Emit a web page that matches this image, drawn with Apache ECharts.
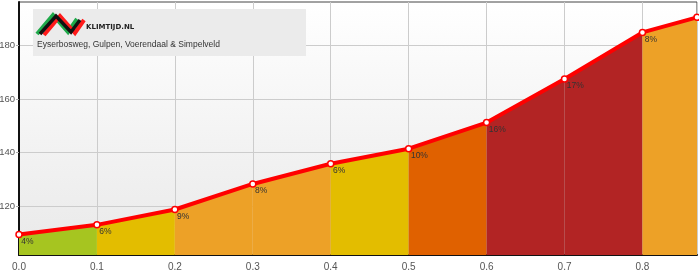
<!DOCTYPE html>
<html>
<head>
<meta charset="utf-8">
<script src="https://cdn.jsdelivr.net/npm/echarts@6/dist/echarts.min.js"></script>
<style>
html,body{margin:0;padding:0;background:#fff;}
#chart{width:699px;height:273px;}
</style>
</head>
<body>
<div id="chart"></div>
<script>
// distance (km) and elevation (m)
var distances = [0.0, 0.1, 0.2, 0.3, 0.4, 0.5, 0.6, 0.7, 0.8, 0.87];
var elevations = [109.6, 113.2, 118.9, 128.4, 135.9, 141.5, 151.2, 167.4, 184.7, 190.3];
var grades = ['4%', '6%', '9%', '8%', '6%', '10%', '16%', '17%', '8%', ''];
var segmentColors = ['#a6c520', '#e3bd00', '#eda127', '#eda127', '#e3bd00', '#e06100', '#b22424', '#b22424', '#eda127'];
var yTicks = [120, 140, 160, 180];
var titleText = 'Eyserbosweg, Gulpen, Voerendaal & Simpelveld';
var brandText = 'KLIMTIJD.NL';

var chart = echarts.init(document.getElementById('chart'));

var series = [];
for (var i = 0; i < distances.length - 1; i++) {
  series.push({
    type: 'line',
    data: [[distances[i], elevations[i]], [distances[i + 1], elevations[i + 1]]],
    showSymbol: false,
    silent: true,
    lineStyle: { width: 0 },
    areaStyle: { color: segmentColors[i], opacity: 1, origin: 'start' },
    z: 2
  });
}
var mainData = distances.map(function (d, i) { return [d, elevations[i]]; });
series.push({
  type: 'line',
  data: mainData,
  symbol: 'circle',
  symbolSize: 6,
  showSymbol: true,
  itemStyle: { color: '#ffffff', borderColor: '#ff0000', borderWidth: 1.5 },
  lineStyle: { color: '#ff0000', width: 4 },
  label: {
    show: true,
    position: [6, 6],
    align: 'left',
    verticalAlign: 'top',
    fontSize: 8.5,
    fontFamily: 'Liberation Sans',
    color: '#333',
    formatter: function (p) { return grades[p.dataIndex]; }
  },
  z: 5
});

chart.setOption({
  animation: false,
  grid: {
    left: 19, right: 2, top: 2, bottom: 18,
    outerBoundsMode: 'none',
    containLabel: false,
    show: true,
    borderColor: '#444',
    borderWidth: 1,
    backgroundColor: {
      type: 'linear', x: 0, y: 0, x2: 0, y2: 1,
      colorStops: [{ offset: 0, color: '#ffffff' }, { offset: 1, color: '#e9e9e9' }]
    }
  },
  xAxis: {
    type: 'value',
    min: 0,
    max: 0.87,
    interval: 0.1,
    axisLine: { show: true, lineStyle: { color: '#111', width: 2 } },
    axisTick: { show: false },
    axisLabel: {
      color: '#555', fontSize: 10, fontFamily: 'Liberation Sans', margin: 7,
      showMaxLabel: false,
      formatter: function (v) { return v.toFixed(1); }
    },
    splitLine: { show: true, lineStyle: { color: '#cccccc', width: 1 } }
  },
  yAxis: {
    type: 'value',
    min: 102,
    max: 196,
    axisLine: { show: true, lineStyle: { color: '#111', width: 2 } },
    axisTick: { show: true, length: 3, customValues: yTicks, lineStyle: { color: '#aaa' } },
    axisLabel: {
      color: '#555', fontSize: 9.5, fontFamily: 'Liberation Sans', margin: 4,
      customValues: yTicks
    },
    splitLine: { show: true, lineStyle: { color: '#cccccc', width: 1 } }
  },
  series: series,
  graphic: [
    { type: 'rect', shape: { x: 33, y: 9, width: 273, height: 47 }, style: { fill: '#ebebeb' }, z: 10 },
    { type: 'polyline', shape: { points: [[37, 34], [53, 15], [68, 32], [77, 19]] }, style: { stroke: '#1fa94a', lineWidth: 4, fill: null }, z: 11 },
    { type: 'polyline', shape: { points: [[44, 35], [60, 16], [75, 33], [84, 20]] }, style: { stroke: '#ff1a1a', lineWidth: 4, fill: null }, z: 11 },
    { type: 'polyline', shape: { points: [[40, 34], [56, 16], [71, 32], [80, 20]] }, style: { stroke: '#111', lineWidth: 3.5, fill: null }, z: 12 },
    { type: 'text', x: 86, y: 27, style: { text: brandText, fontSize: 7, fontWeight: 'bold', fontFamily: 'DejaVu Sans', fill: '#222', verticalAlign: 'middle' }, z: 12 },
    { type: 'text', x: 37, y: 45, style: { text: titleText, fontSize: 8.5, fontFamily: 'Liberation Sans', fill: '#333', verticalAlign: 'middle' }, z: 12 }
  ]
});
</script>
</body>
</html>
